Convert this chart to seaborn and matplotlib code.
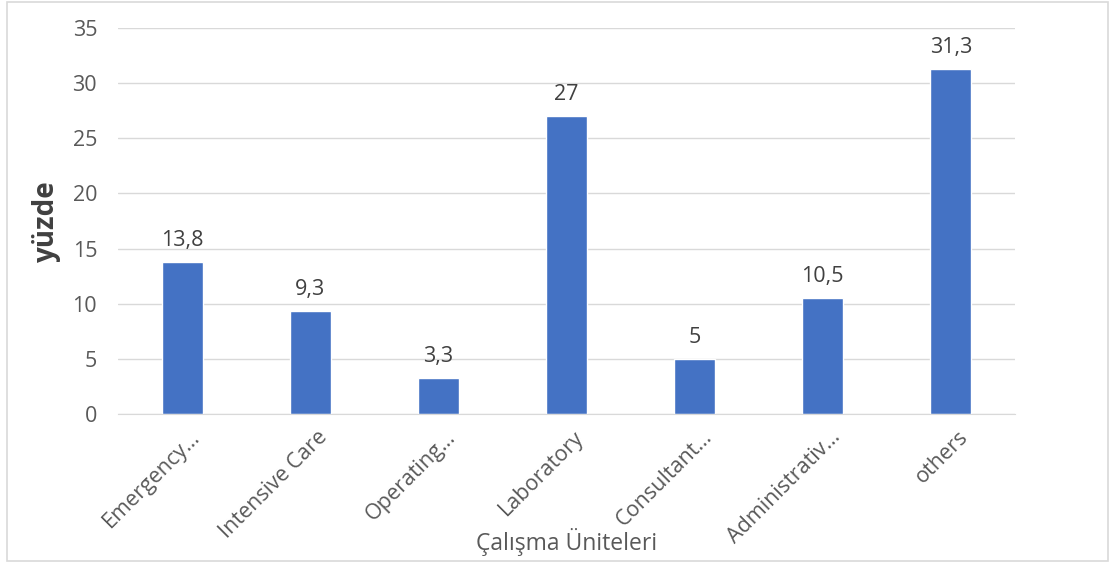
import matplotlib
matplotlib.use("Agg")
import matplotlib.pyplot as plt
import matplotlib.transforms as mtransforms
import seaborn as sns
import pandas as pd
from matplotlib.patches import Rectangle

# Data
units = ["Emergency…", "Intensive Care", "Operating…", "Laboratory",
         "Consultant…", "Administrativ…", "others"]
percent = [13.8, 9.3, 3.3, 27, 5, 10.5, 31.3]
value_labels = ["13,8", "9,3", "3,3", "27", "5", "10,5", "31,3"]

df = pd.DataFrame({"unit": units, "percent": percent})

sns.set_style("white")
plt.rcParams["font.family"] = ["Open Sans", "DejaVu Sans"]

text_color = "#595959"
fig = plt.figure(figsize=(11.15, 5.67), dpi=100)
ax = fig.add_axes([0.1058, 0.2698, 0.8045, 0.6808])

sns.barplot(data=df, x="unit", y="percent", color="#4472C4",
            width=0.32, saturation=1, ax=ax)

for i, (v, lab) in enumerate(zip(percent, value_labels)):
    ax.text(i, v + 1.0, lab, ha="center", va="bottom",
            fontsize=15.5, color="#404040")

ax.set_ylim(0, 35)
ax.set_yticks(range(0, 36, 5))
ax.set_xlim(-0.5, 6.5)
ax.yaxis.grid(True, color="#D9D9D9", linewidth=1)
ax.set_axisbelow(True)
for side in ["top", "right", "left"]:
    ax.spines[side].set_visible(False)
ax.spines["bottom"].set_color("#D9D9D9")
ax.tick_params(axis="both", length=0, colors=text_color, labelsize=15.5)
ax.tick_params(axis="y", pad=15)
ax.set_xticks(range(len(units)))
ax.set_xticklabels(units, rotation=45, ha="right", rotation_mode="anchor")
ax.tick_params(axis="x", pad=9)
shift = mtransforms.ScaledTranslation(0.07, 0, fig.dpi_scale_trans)
for lbl in ax.get_xticklabels():
    lbl.set_transform(lbl.get_transform() + shift)

ax.set_ylabel("yüzde", fontsize=20, fontweight="bold", color="#404040", labelpad=8)
ax.set_xlabel("Çalışma Üniteleri", fontsize=16.5, color=text_color, labelpad=-14)

fig.patches.append(Rectangle((0.006, 0.011), 0.988, 0.985, transform=fig.transFigure,
                             fill=False, edgecolor="#D9D9D9", linewidth=1.2))

fig.savefig("out.png", dpi=100, facecolor="white")
